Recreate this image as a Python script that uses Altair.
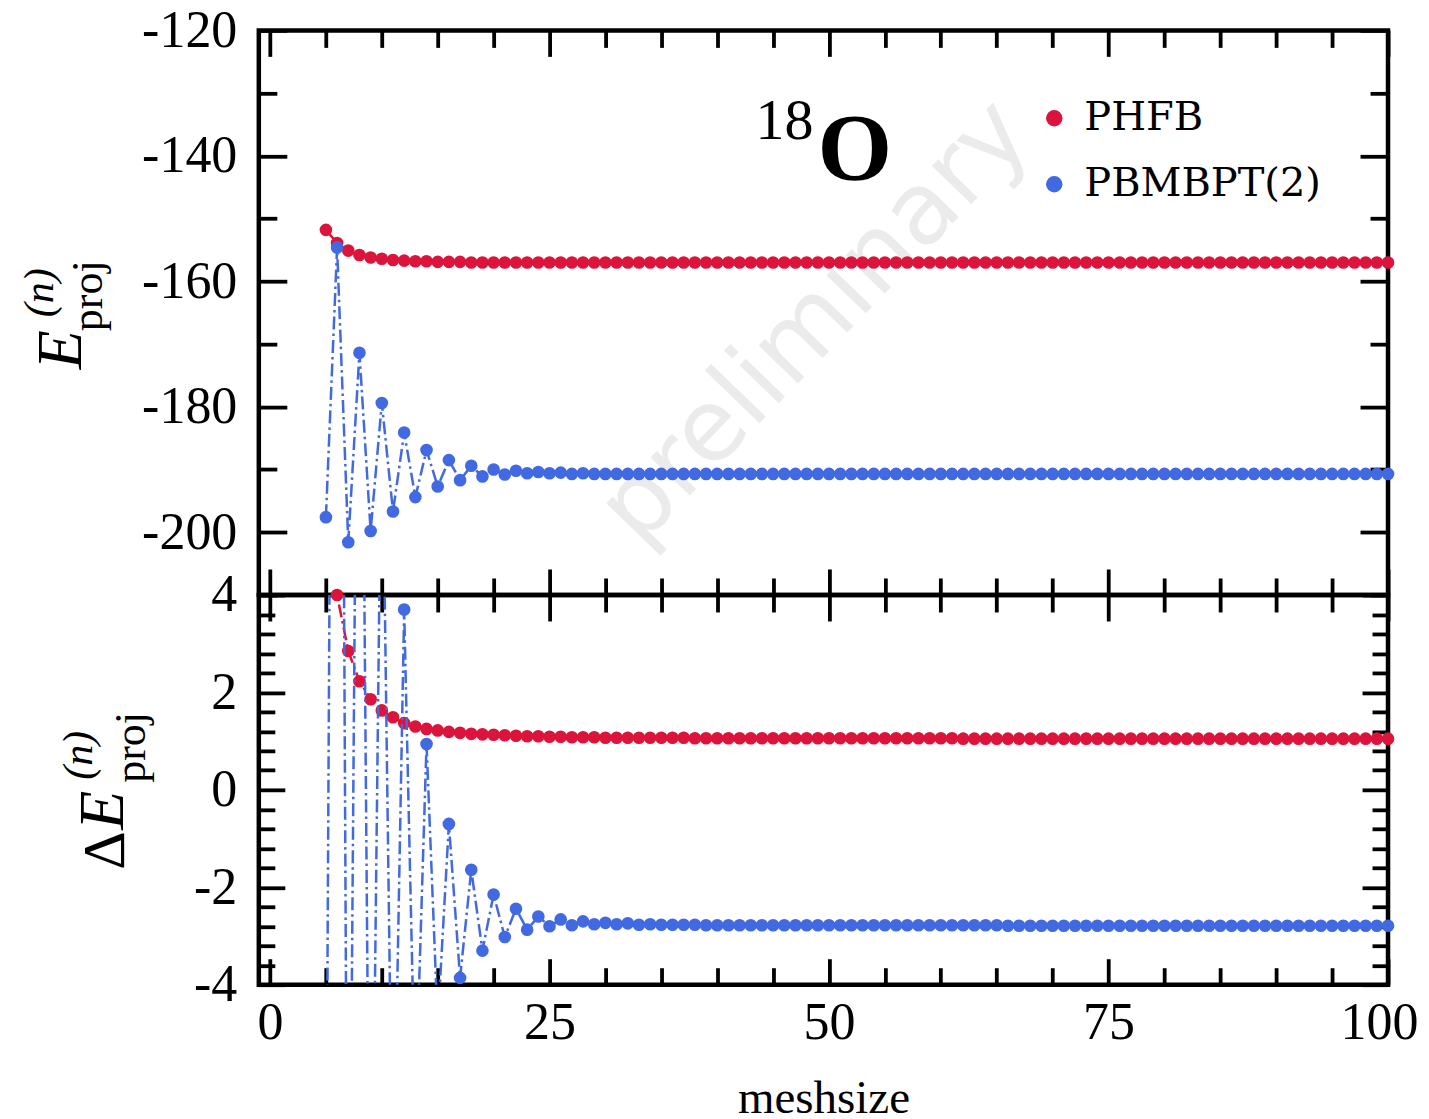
import altair as alt
import pandas as pd

# ---------------- data ----------------
meshsize = list(range(5, 101))
series_names = ["PHFB", "PBMBPT(2)"]
series_colors = ["#DC143C", "#4169E1"]

phfb_E = [
    -151.8, -153.9, -155.1, -155.8, -156.2, -156.4, -156.6, -156.7, -156.8, -156.8,
    -156.9, -156.9, -156.9, -157.0, -157.0, -157.0, -157.0, -157.0, -157.0, -157.0,
    -157.0, -157.0, -157.0, -157.0, -157.0, -157.0, -157.0, -157.0, -157.0, -157.0,
    -157.0, -157.0, -157.0, -157.0, -157.0, -157.0, -157.0, -157.0, -157.0, -157.0,
    -157.0, -157.0, -157.0, -157.0, -157.0, -157.0, -157.0, -157.0, -157.0, -157.0,
    -157.0, -157.0, -157.0, -157.0, -157.0, -157.0, -157.0, -157.0, -157.0, -157.0,
    -157.0, -157.0, -157.0, -157.0, -157.0, -157.0, -157.0, -157.0, -157.0, -157.0,
    -157.0, -157.0, -157.0, -157.0, -157.0, -157.0, -157.0, -157.0, -157.0, -157.0,
    -157.0, -157.0, -157.0, -157.0, -157.0, -157.0, -157.0, -157.0, -157.0, -157.0,
    -157.0, -157.0, -157.0, -157.0, -157.0, -157.0,
]
pbmbpt_E = [
    -197.6, -154.6, -201.6, -171.4, -199.8, -179.4, -196.7, -184.1, -194.4, -186.9,
    -192.7, -188.5, -191.7, -189.4, -191.1, -190.0, -190.8, -190.2, -190.6, -190.4,
    -190.6, -190.5, -190.7, -190.6, -190.7, -190.7, -190.7, -190.7, -190.7, -190.7,
    -190.7, -190.7, -190.7, -190.7, -190.7, -190.7, -190.7, -190.7, -190.7, -190.7,
    -190.7, -190.7, -190.7, -190.7, -190.7, -190.7, -190.7, -190.7, -190.7, -190.7,
    -190.7, -190.7, -190.7, -190.7, -190.7, -190.7, -190.7, -190.7, -190.7, -190.7,
    -190.7, -190.7, -190.7, -190.7, -190.7, -190.7, -190.7, -190.7, -190.7, -190.7,
    -190.7, -190.7, -190.7, -190.7, -190.7, -190.7, -190.7, -190.7, -190.7, -190.7,
    -190.7, -190.7, -190.7, -190.7, -190.7, -190.7, -190.7, -190.7, -190.7, -190.7,
    -190.7, -190.7, -190.7, -190.7, -190.7, -190.7,
]
phfb_dE = [
    6.2, 4.0, 2.85, 2.23, 1.86, 1.63, 1.49, 1.37, 1.30, 1.25,
    1.22, 1.19, 1.17, 1.15, 1.14, 1.13, 1.12, 1.11, 1.10, 1.10,
    1.09, 1.09, 1.08, 1.08, 1.08, 1.07, 1.07, 1.07, 1.07, 1.07,
    1.07, 1.07, 1.07, 1.06, 1.06, 1.06, 1.06, 1.06, 1.06, 1.06,
    1.06, 1.06, 1.06, 1.06, 1.06, 1.06, 1.06, 1.06, 1.06, 1.06,
    1.06, 1.06, 1.06, 1.06, 1.06, 1.06, 1.06, 1.05, 1.05, 1.05,
    1.05, 1.05, 1.05, 1.05, 1.05, 1.05, 1.05, 1.05, 1.05, 1.05,
    1.05, 1.05, 1.05, 1.05, 1.05, 1.05, 1.05, 1.05, 1.05, 1.05,
    1.05, 1.05, 1.05, 1.05, 1.05, 1.05, 1.05, 1.05, 1.05, 1.05,
    1.05, 1.05, 1.05, 1.05, 1.05, 1.05,
]
pbmbpt_dE = [
    -9.7, 33.3, -13.7, 16.5, -11.9, 8.5, -8.8, 3.70, -6.5, 0.94,
    -4.8, -0.70, -3.86, -1.64, -3.30, -2.15, -3.02, -2.44, -2.87, -2.60,
    -2.80, -2.66, -2.78, -2.70, -2.76, -2.73, -2.76, -2.74, -2.77, -2.76,
    -2.77, -2.77, -2.77, -2.77, -2.78, -2.78, -2.78, -2.78, -2.78, -2.78,
    -2.78, -2.78, -2.78, -2.78, -2.78, -2.78, -2.78, -2.78, -2.78, -2.78,
    -2.78, -2.78, -2.78, -2.78, -2.78, -2.78, -2.78, -2.78, -2.78, -2.78,
    -2.78, -2.79, -2.79, -2.79, -2.79, -2.79, -2.79, -2.79, -2.79, -2.79,
    -2.79, -2.79, -2.79, -2.79, -2.79, -2.79, -2.79, -2.79, -2.79, -2.79,
    -2.79, -2.79, -2.79, -2.79, -2.79, -2.79, -2.79, -2.79, -2.79, -2.79,
    -2.79, -2.79, -2.79, -2.79, -2.79, -2.79,
]

x_labels = [0, 25, 50, 75, 100]
x_ticks = [0, 5, 10, 15, 20, 25, 30, 35, 40, 45, 50, 55, 60, 65, 70, 75, 80, 85, 90, 95, 100]
top_labels = [-200, -180, -160, -140, -120]
top_ticks = [-210, -200, -190, -180, -170, -160, -150, -140, -130, -120]
bot_labels = [-4, -2, 0, 2, 4]
bot_ticks = [-4.0, -3.6, -3.2, -2.8, -2.4, -2.0, -1.6, -1.2, -0.8, -0.4, 0.0,
             0.4, 0.8, 1.2, 1.6, 2.0, 2.4, 2.8, 3.2, 3.6, 4.0]

df = pd.DataFrame({
    "meshsize": meshsize * 2,
    "series": [series_names[0]] * len(meshsize) + [series_names[1]] * len(meshsize),
    "E": phfb_E + pbmbpt_E,
    "dE": phfb_dE + pbmbpt_dE,
})

# ---------------- styling ----------------
W, H1, H2 = 1130, 565, 390
SERIF = "Liberation Serif"
LBL = 52
TICK_W = 3.8
DASH = [13, 4, 2.5, 4]
LW = 2.5
PT = 160

xscale = alt.Scale(domain=[-1, 100], nice=False, zero=False)
ytop = alt.Scale(domain=[-210, -120], nice=False, zero=False)
ybot = alt.Scale(domain=[-4, 4], nice=False, zero=False)
cscale = alt.Scale(domain=series_names, range=series_colors)

LEGEND = alt.Legend(
    title=None, orient="none", legendX=776, legendY=68, symbolType="circle",
    symbolSize=270, symbolStrokeWidth=0, labelFont="DejaVu Serif", labelFontSize=40,
    labelColor="black", labelOffset=10, labelLimit=600, rowPadding=26, padding=0)
COLOR = alt.Color("series:N", scale=cscale, legend=LEGEND)


def inward(orient, offset, values, test, major, minor):
    return alt.Axis(orient=orient, offset=offset, values=values, labels=False,
                    title=None, domain=False, grid=False, ticks=True,
                    tickSize={"condition": {"test": test, "value": major}, "value": minor},
                    tickWidth=TICK_W, tickColor="black")


def label_axis(orient, values, pad, title=None, flush=False):
    if title is not None:
        kw = dict(title=title, titleFont=SERIF, titleFontSize=47,
                  titleFontWeight="normal", titleColor="black", titlePadding=27)
    else:
        kw = dict(title=None)
    if flush:
        kw.update(labelFlush=5, labelFlushOffset=30)
    else:
        kw.update(labelFlush=False)
    return alt.Axis(orient=orient, values=values, ticks=False, domain=False, grid=False,
                    labelFont=SERIF, labelFontSize=LBL, labelColor="black",
                    labelPadding=pad, labelOverlap=False,
                    labelExpr="'' + datum.value", **kw)


one = pd.DataFrame({"k": [0]})


def txt(text, x, y, size, style="normal", angle=0, font=SERIF, color="black",
        align="left", baseline="alphabetic", weight="normal"):
    return alt.Chart(one).mark_text(
        text=text, font=font, fontSize=size, fontStyle=style, angle=angle,
        align=align, baseline=baseline, color=color, fontWeight=weight,
    ).encode(x=alt.value(x), y=alt.value(y))


xtest = "datum.value % 25 === 0"
ttest = "datum.value % 20 === 0"
btest = "abs(datum.value % 2) < 0.001"

red = alt.datum.series == series_names[0]
blue = alt.datum.series == series_names[1]

# ---------------- top panel ----------------
base_t = alt.Chart(df)

t_red_line = base_t.transform_filter(red).mark_line(
    strokeWidth=LW, strokeDash=DASH, clip=True).encode(
    x=alt.X("meshsize:Q", scale=xscale, axis=inward("top", -H1, x_ticks, xtest, 26, 17)),
    y=alt.Y("E:Q", scale=ytop, axis=label_axis("left", top_labels, 22)),
    color=COLOR,
)
t_red_pts = base_t.transform_filter(red).mark_circle(size=PT, opacity=1).encode(
    x=alt.X("meshsize:Q", scale=xscale, axis=inward("bottom", -H1, x_ticks, xtest, 26, 17)),
    y=alt.Y("E:Q", scale=ytop, axis=inward("right", -W, top_ticks, ttest, 28, 18)),
    color=COLOR,
)
t_blue_line = base_t.transform_filter(blue).mark_line(
    strokeWidth=LW, strokeDash=DASH, clip=True).encode(
    x=alt.X("meshsize:Q", scale=xscale, axis=None),
    y=alt.Y("E:Q", scale=ytop, axis=inward("left", -W, top_ticks, ttest, 28, 18)),
    color=COLOR,
)
t_blue_pts = base_t.transform_filter(blue).mark_circle(size=PT, opacity=1).encode(
    x=alt.X("meshsize:Q", scale=xscale, axis=None),
    y=alt.Y("E:Q", scale=ytop, axis=None),
    color=COLOR,
)

watermark = txt("preliminary", 557, 292, 100, font="DejaVu Sans", color="#ebebeb",
                angle=314, align="center", baseline="middle")
iso_mass = txt("18", 497, 109, 58)
iso_sym = txt("O", 559, 150, 96, weight="bold")
t_E = txt("E", -178, 339, 64, style="italic", angle=270)
t_n = txt("(n)", -206, 287, 42, style="italic", angle=270)
t_proj = txt("proj", -157, 301, 44, angle=270)

top = alt.layer(
    watermark, t_red_line, t_red_pts, t_blue_line, t_blue_pts,
    iso_mass, iso_sym, t_E, t_n, t_proj,
).resolve_axis(x="independent", y="independent").properties(width=W, height=H1)

# ---------------- bottom panel ----------------
base_b = alt.Chart(df)
in_range = "datum.dE >= -4 && datum.dE <= 4"

b_red_line = base_b.transform_filter(red).mark_line(
    strokeWidth=LW, strokeDash=DASH, clip=True).encode(
    x=alt.X("meshsize:Q", scale=xscale,
            axis=label_axis("bottom", x_labels, 13, "meshsize", flush=True)),
    y=alt.Y("dE:Q", scale=ybot, axis=label_axis("left", bot_labels, 22)),
    color=COLOR,
)
b_red_pts = base_b.transform_filter(red).transform_filter(in_range).mark_circle(
    size=PT, opacity=1).encode(
    x=alt.X("meshsize:Q", scale=xscale, axis=inward("top", -H2, x_ticks, xtest, 26, 17)),
    y=alt.Y("dE:Q", scale=ybot, axis=inward("right", -W, bot_ticks, btest, 26, 16)),
    color=COLOR,
)
b_blue_line = base_b.transform_filter(blue).mark_line(
    strokeWidth=LW, strokeDash=DASH, clip=True).encode(
    x=alt.X("meshsize:Q", scale=xscale, axis=inward("bottom", -H2, x_ticks, xtest, 26, 17)),
    y=alt.Y("dE:Q", scale=ybot, axis=inward("left", -W, bot_ticks, btest, 26, 16)),
    color=COLOR,
)
b_blue_pts = base_b.transform_filter(blue).transform_filter(in_range).mark_circle(
    size=PT, opacity=1).encode(
    x=alt.X("meshsize:Q", scale=xscale, axis=None),
    y=alt.Y("dE:Q", scale=ybot, axis=None),
    color=COLOR,
)

b_D = txt("Δ", -135, 275, 60, angle=270)
b_E = txt("E", -136, 235, 64, style="italic", angle=270)
b_n = txt("(n)", -167, 185, 42, style="italic", angle=270)
b_proj = txt("proj", -114, 188, 44, angle=270)

bottom = alt.layer(
    b_red_line, b_red_pts, b_blue_line, b_blue_pts, b_D, b_E, b_n, b_proj,
).resolve_axis(x="independent", y="independent").properties(width=W, height=H2)

chart = alt.vconcat(top, bottom, spacing=0, bounds="flush").properties(
    padding={"left": 8, "top": -7, "right": 0, "bottom": 0},
    background="white",
).configure_view(stroke="black", strokeWidth=4.5)

chart.save("out.html", embed_options={"renderer": "svg", "actions": False})
